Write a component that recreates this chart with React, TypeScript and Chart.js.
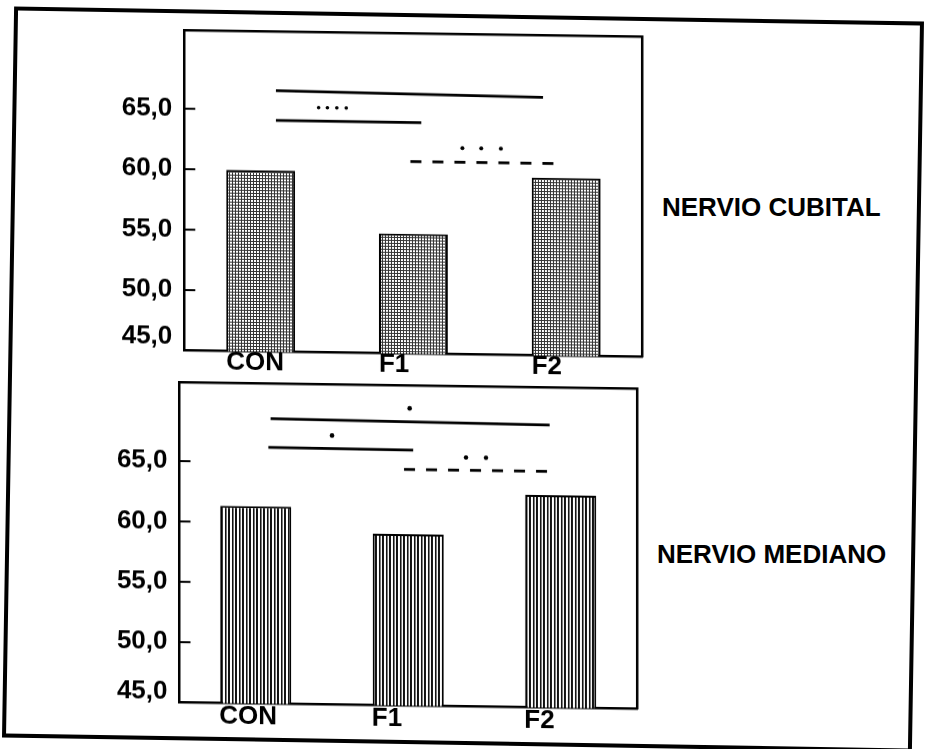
import React, { useEffect, useRef } from 'react';
import { Chart, registerables } from 'chart.js';

Chart.register(...registerables);
Chart.defaults.font.family = "'Liberation Sans', Arial, Helvetica, sans-serif";
Chart.defaults.color = '#000';

// ---------- data ----------
const categories = ['CON', 'F1', 'F2'];
const yTickValues = [45, 50, 55, 60, 65];
const yMin = 45;
const yMax = 71.5;

// NERVIO CUBITAL
const cubitalMeans = [60.0, 54.9, 59.7];
const cubitalLongBar = [{ x: -0.05, y: 66.6 }, { x: 1.99, y: 66.35 }];
const cubitalShortBar = [{ x: -0.05, y: 64.14 }, { x: 1.06, y: 64.11 }];
const cubitalDashedBar = [{ x: 0.977, y: 60.89 }, { x: 2.077, y: 60.89 }];
const cubitalStarsA = [{ x: 0.276, y: 65.24 }, { x: 0.343, y: 65.24 }, { x: 0.415, y: 65.24 }, { x: 0.487, y: 65.24 }];
const cubitalStarsB = [{ x: 1.374, y: 62.05 }, { x: 1.518, y: 62.05 }, { x: 1.668, y: 62.05 }];

// NERVIO MEDIANO
const medianoMeans = [61.35, 59.2, 62.6];
const medianoLongBar = [{ x: -0.053, y: 68.62 }, { x: 2.082, y: 68.41 }];
const medianoShortBar = [{ x: -0.07, y: 66.23 }, { x: 1.038, y: 66.18 }];
const medianoDashedBar = [{ x: 0.968, y: 64.57 }, { x: 2.093, y: 64.57 }];
const medianoStarsA = [{ x: 1.011, y: 69.63 }];
const medianoStarsB = [{ x: 0.417, y: 67.29 }];
const medianoStarsC = [{ x: 1.442, y: 65.63 }, { x: 1.595, y: 65.63 }];

const SKEW_DEG = 0.8;

function fmt(v: number) {
  return v.toFixed(1).replace('.', ',');
}

function makePattern(ctx: CanvasRenderingContext2D, kind: string) {
  const c = document.createElement('canvas');
  const g = c.getContext('2d')!;
  if (kind === 'grid') {
    c.width = 3; c.height = 3;
    g.fillStyle = '#fff'; g.fillRect(0, 0, 3, 3);
    g.fillStyle = '#333';
    g.fillRect(0, 0, 1, 3);
    g.fillRect(0, 0, 3, 1);
  } else {
    c.width = 7; c.height = 1;
    g.fillStyle = '#fff'; g.fillRect(0, 0, 7, 1);
    g.fillStyle = '#111';
    g.fillRect(0, 0, 2, 1);
    g.fillRect(4, 0, 1, 1);
    g.fillStyle = '#777';
    g.fillRect(5, 0, 1, 1);
  }
  return ctx.createPattern(c, 'repeat')!;
}

function zeroPad(s: any) {
  s.paddingTop = 0;
  s.paddingBottom = 0;
  s.paddingLeft = 0;
  s.paddingRight = 0;
}

type Pt = { x: number; y: number };
type PanelProps = {
  means: number[];
  solid: Pt[][];
  dashed: Pt[][];
  stars: { data: Pt[]; r: number }[];
  pattern: string;
  left: number; top: number; width: number; height: number;
  axisWidth: number; padTop: number; padRight: number; xAxisHeight: number;
  barPct: number; labelOffset: number; xPad: number; yLineHeight: number;
};

function ChartPanel(p: PanelProps) {
  const ref = useRef<HTMLCanvasElement | null>(null);
  useEffect(() => {
    const canvas = ref.current!;
    const ctx = canvas.getContext('2d')!;
    const pattern = makePattern(ctx, p.pattern);
    const innerTicks = {
      id: 'innerTicks',
      afterDatasetsDraw(chart: any) {
        const ys = chart.scales.y;
        const area = chart.chartArea;
        const c = chart.ctx;
        c.save();
        c.strokeStyle = '#000';
        c.lineWidth = 2;
        for (const v of yTickValues) {
          if (v === yMin) continue;
          const py = ys.getPixelForValue(v);
          c.beginPath();
          c.moveTo(area.left, py);
          c.lineTo(area.left + 11, py);
          c.stroke();
        }
        c.restore();
      },
    };
    const axisBorder = { display: true, color: '#000', width: 2.5 };
    const noGrid = { display: true, drawOnChartArea: false, drawTicks: false };
    const lineBase = {
      type: 'line', xAxisID: 'xl', yAxisID: 'y', borderColor: '#000',
      borderWidth: 2.8, pointRadius: 0, fill: false, tension: 0,
    };
    const chart = new Chart(canvas, {
      type: 'bar',
      data: {
        labels: categories,
        datasets: [
          {
            type: 'bar', data: p.means, backgroundColor: pattern, borderColor: '#000',
            borderWidth: 2, borderSkipped: 'bottom', barPercentage: p.barPct,
            categoryPercentage: 1, grouped: false, xAxisID: 'x', yAxisID: 'y',
          },
          ...p.solid.map((d) => ({ ...lineBase, data: d })),
          ...p.dashed.map((d) => ({ ...lineBase, data: d, borderDash: [11, 11] })),
          ...p.stars.map((s) => ({
            type: 'line', xAxisID: 'xl', yAxisID: 'y', data: s.data, showLine: false,
            pointRadius: s.r, pointBackgroundColor: '#000', pointBorderWidth: 0,
          })),
        ] as any,
      },
      options: {
        responsive: false,
        animation: false,
        devicePixelRatio: 1,
        events: [],
        layout: { padding: { left: 0, top: p.padTop, right: p.padRight, bottom: 0 } },
        plugins: { legend: { display: false }, tooltip: { enabled: false }, title: { display: false } },
        scales: {
          x: {
            type: 'category', position: 'bottom', offset: true,
            grid: noGrid, border: axisBorder,
            ticks: {
              align: 'start', labelOffset: p.labelOffset, padding: p.xPad,
              maxRotation: 0, minRotation: 0, autoSkip: false, color: '#000',
              font: { size: 26, weight: 'bold', lineHeight: 1 },
            },
            afterFit: (s: any) => { s.height = p.xAxisHeight; zeroPad(s); },
          },
          xl: {
            type: 'linear', position: 'top', min: -0.5, max: 2.5,
            grid: noGrid, border: axisBorder, ticks: { display: false },
            afterFit: (s: any) => { s.height = 0; zeroPad(s); },
          },
          y: {
            type: 'linear', position: 'left', min: yMin, max: yMax,
            grid: noGrid, border: axisBorder,
            ticks: {
              padding: 12, color: '#000',
              font: { size: 26, weight: 'bold', lineHeight: p.yLineHeight },
              callback: (v: any) => (Number(v) === yMin ? [fmt(Number(v)), ''] : fmt(Number(v))),
            },
            afterBuildTicks: (s: any) => { s.ticks = yTickValues.map((v) => ({ value: v })); },
            afterFit: (s: any) => { s.width = p.axisWidth; zeroPad(s); },
          },
          y2: {
            type: 'linear', position: 'right',
            grid: noGrid, border: axisBorder, ticks: { display: false },
            afterFit: (s: any) => { s.width = 0; zeroPad(s); },
          },
        },
      } as any,
      plugins: [innerTicks],
    });
    return () => chart.destroy();
  }, []);
  return (
    <canvas
      ref={ref}
      width={p.width}
      height={p.height}
      style={{
        position: 'absolute', left: p.left, top: p.top, width: p.width, height: p.height,
        transform: `skewY(${SKEW_DEG}deg)`, transformOrigin: `${p.axisWidth}px 0px`,
      }}
    />
  );
}

const labelStyle: React.CSSProperties = {
  position: 'absolute',
  fontFamily: "'Liberation Sans', Arial, Helvetica, sans-serif",
  fontSize: 26,
  fontWeight: 'bold',
  lineHeight: '30px',
  color: '#000',
  whiteSpace: 'nowrap',
};

export default function App() {
  return (
    <div style={{ position: 'absolute', left: 0, top: 0, width: 926, height: 749, overflow: 'hidden', background: '#fff' }}>
      <div
        style={{
          position: 'absolute', left: 7.75, top: 13.5, width: 909.5, height: 730.5,
          border: '4.5px solid #000', boxSizing: 'border-box', transform: 'rotate(0.95deg)',
        }}
      />
      <ChartPanel
        means={cubitalMeans}
        solid={[cubitalLongBar, cubitalShortBar]}
        dashed={[cubitalDashedBar]}
        stars={[{ data: cubitalStarsA, r: 1.8 }, { data: cubitalStarsB, r: 2 }]}
        pattern="grid"
        left={100} top={15} width={560} height={380}
        axisWidth={84.3} padTop={15.1} padRight={17.4} xAxisHeight={44.5}
        barPct={0.451} labelOffset={-34.5} xPad={-1.5} yLineHeight={1.08}
      />
      <ChartPanel
        means={medianoMeans}
        solid={[medianoLongBar, medianoShortBar]}
        dashed={[medianoDashedBar]}
        stars={[{ data: medianoStarsA, r: 2.3 }, { data: medianoStarsB, r: 2.3 }, { data: medianoStarsC, r: 2.2 }]}
        pattern="stripes"
        left={95} top={370} width={560} height={375}
        axisWidth={84.5} padTop={12.6} padRight={18} xAxisHeight={42.5}
        barPct={0.466} labelOffset={-36.5} xPad={0} yLineHeight={0.85}
      />
      <div style={{ ...labelStyle, left: 662, top: 192 }}>NERVIO CUBITAL</div>
      <div style={{ ...labelStyle, left: 657, top: 539 }}>NERVIO MEDIANO</div>
    </div>
  );
}
